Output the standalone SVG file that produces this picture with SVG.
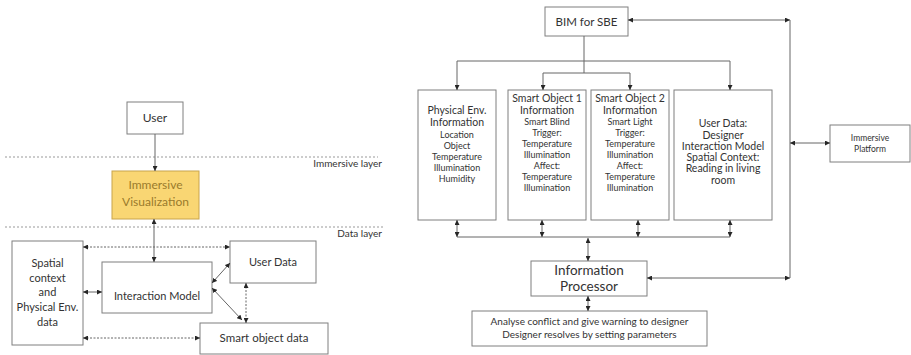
<svg xmlns="http://www.w3.org/2000/svg" width="911" height="355" viewBox="0 0 911 355">
<style>
.box{fill:#fff;stroke:#7f7f7f;stroke-width:1}
.t{font-family:Lato,"Open Sans",sans-serif;fill:#333;text-anchor:middle}
.e{text-anchor:end}
.c{fill:none;stroke:#666;stroke-width:1}
.d{fill:none;stroke:#666;stroke-width:1;stroke-dasharray:2,1.5}
.layer{fill:none;stroke:#999;stroke-width:1;stroke-dasharray:2,2}
.s12{font-size:12px}.s11{font-size:11px}.s105{font-size:10.5px}.s13{font-size:13.5px}.s115{font-size:11.5px}.s10{font-size:10px}.s9{font-size:9px}.s8{font-size:8.5px}
</style>
<defs>
<marker id="a" viewBox="0 0 8 8" refX="8" refY="4" markerWidth="5" markerHeight="5" markerUnits="userSpaceOnUse" orient="auto-start-reverse"><path d="M0,0L8,4L0,8z" fill="#262626"/></marker>
</defs>
<rect width="911" height="355" fill="#fff"/>
<g id="layers">
<line class="layer" x1="5" y1="157" x2="378" y2="157"/>
<line class="layer" x1="5" y1="227" x2="385" y2="227"/>
<text class="t s10 e" x="382" y="167">Immersive layer</text>
<text class="t s10 e" x="382" y="237">Data layer</text>
</g>
<g id="user"><rect class="box" x="127" y="102" width="56" height="32"/><text class="t s12" x="155" y="122">User</text></g>
<g id="immersive-vis"><rect x="112" y="171" width="87" height="48" fill="#f9d673" stroke="#c8a44c"/><text class="t s12" x="155.5" y="189" style="fill:#9a7b2c">Immersive</text><text class="t s12" x="155.5" y="206" style="fill:#9a7b2c">Visualization</text></g>
<g id="spatial"><rect class="box" x="12" y="241" width="71" height="104"/>
<text class="t s11" x="47.5" y="267">Spatial</text><text class="t s11" x="47.5" y="282">context</text><text class="t s11" x="47.5" y="296">and</text><text class="t s11" x="47.5" y="311">Physical Env.</text><text class="t s11" x="47.5" y="326">data</text></g>
<g id="interaction"><rect class="box" x="102" y="262" width="110" height="51"/><text class="t s11" x="157" y="300">Interaction Model</text></g>
<g id="user-data-left"><rect class="box" x="230" y="241" width="86" height="42"/><text class="t s11" x="273" y="266">User Data</text></g>
<g id="smart-object-data"><rect class="box" x="200" y="323" width="128" height="31"/><text class="t s115" x="264" y="342">Smart object data</text></g>

<g id="bim"><rect class="box" x="545" y="7" width="83" height="29"/><text class="t s115" x="586.5" y="26">BIM for SBE</text></g>
<g id="phys"><rect class="box" x="418" y="90" width="78" height="130"/>
<text class="t s105" x="457" y="114">Physical Env.</text><text class="t s105" x="457" y="126">Information</text>
<text class="t s9" x="457" y="138">Location</text><text class="t s9" x="457" y="149">Object</text><text class="t s9" x="457" y="160">Temperature</text><text class="t s9" x="457" y="171">Illumination</text><text class="t s9" x="457" y="182">Humidity</text></g>
<g id="so1"><rect class="box" x="508" y="90" width="78" height="130"/>
<text class="t s105" x="547" y="102">Smart Object 1</text><text class="t s105" x="547" y="114">Information</text>
<text class="t s9" x="547" y="125">Smart Blind</text><text class="t s9" x="547" y="136">Trigger:</text><text class="t s9" x="547" y="147">Temperature</text><text class="t s9" x="547" y="158">Illumination</text><text class="t s9" x="547" y="169">Affect:</text><text class="t s9" x="547" y="180">Temperature</text><text class="t s9" x="547" y="191">Illumination</text></g>
<g id="so2"><rect class="box" x="591" y="90" width="78" height="130"/>
<text class="t s105" x="630" y="102">Smart Object 2</text><text class="t s105" x="630" y="114">Information</text>
<text class="t s9" x="630" y="125">Smart Light</text><text class="t s9" x="630" y="136">Trigger:</text><text class="t s9" x="630" y="147">Temperature</text><text class="t s9" x="630" y="158">Illumination</text><text class="t s9" x="630" y="169">Affect:</text><text class="t s9" x="630" y="180">Temperature</text><text class="t s9" x="630" y="191">Illumination</text></g>
<g id="user-data-right"><rect class="box" x="674" y="90" width="98" height="130"/>
<text class="t s105" x="723" y="127">User Data:</text><text class="t s105" x="723" y="139">Designer</text><text class="t s105" x="723" y="150">Interaction Model</text><text class="t s105" x="723" y="161">Spatial Context:</text><text class="t s105" x="723" y="172">Reading in living</text><text class="t s105" x="723" y="184">room</text></g>
<g id="processor"><rect class="box" x="531" y="261" width="116" height="35"/><text class="t s13" x="589" y="275">Information</text><text class="t s13" x="589" y="291">Processor</text></g>
<g id="analyse"><rect class="box" x="472" y="311" width="235" height="35"/><text class="t s10" x="589.5" y="325">Analyse conflict and give warning to designer</text><text class="t s10" x="589.5" y="338">Designer resolves by setting parameters</text></g>
<g id="platform"><rect class="box" x="830" y="125" width="80" height="37"/><text class="t s8" x="870" y="141">Immersive</text><text class="t s8" x="870" y="152">Platform</text></g>

<g id="connectors">
<line class="c" x1="155" y1="134" x2="155" y2="171" marker-end="url(#a)"/>
<line class="c" x1="154" y1="219" x2="154" y2="262" marker-start="url(#a)" marker-end="url(#a)"/>
<line class="d" x1="83" y1="247" x2="230" y2="247" marker-start="url(#a)" marker-end="url(#a)"/>
<line class="c" x1="83" y1="292" x2="102" y2="292" marker-start="url(#a)" marker-end="url(#a)"/>
<line class="d" x1="83" y1="338" x2="200" y2="338" marker-start="url(#a)" marker-end="url(#a)"/>
<line class="c" x1="212" y1="283" x2="230" y2="263" marker-start="url(#a)" marker-end="url(#a)"/>
<line class="c" x1="212" y1="288" x2="242" y2="320" marker-start="url(#a)" marker-end="url(#a)"/>
<line class="d" x1="246" y1="283" x2="246" y2="323" marker-start="url(#a)" marker-end="url(#a)"/>

<polyline class="c" points="584,36 584,61"/>
<polyline class="c" points="457,90 457,61 730,61 730,90" marker-start="url(#a)" marker-end="url(#a)"/>
<polyline class="c" points="543,90 543,73 630,73 630,90" marker-start="url(#a)" marker-end="url(#a)"/>
<line class="c" x1="584" y1="61" x2="584" y2="73"/>
<line class="c" x1="628" y1="20" x2="790" y2="20" marker-start="url(#a)" marker-end="url(#a)"/>
<line class="c" x1="790" y1="20" x2="790" y2="278"/>
<line class="c" x1="647" y1="278" x2="790" y2="278" marker-start="url(#a)" marker-end="url(#a)"/>
<line class="c" x1="790" y1="143" x2="830" y2="143" marker-start="url(#a)" marker-end="url(#a)"/>
<line class="c" x1="457" y1="237" x2="730" y2="237"/>
<line class="c" x1="457" y1="220" x2="457" y2="237" marker-start="url(#a)" marker-end="url(#a)"/>
<line class="c" x1="542" y1="220" x2="542" y2="237" marker-start="url(#a)" marker-end="url(#a)"/>
<line class="c" x1="638" y1="220" x2="638" y2="237" marker-start="url(#a)" marker-end="url(#a)"/>
<line class="c" x1="730" y1="220" x2="730" y2="237" marker-start="url(#a)" marker-end="url(#a)"/>
<line class="c" x1="588" y1="238" x2="588" y2="261" marker-start="url(#a)" marker-end="url(#a)"/>
<line class="c" x1="588" y1="296" x2="588" y2="311" marker-start="url(#a)" marker-end="url(#a)"/>
</g>
</svg>
